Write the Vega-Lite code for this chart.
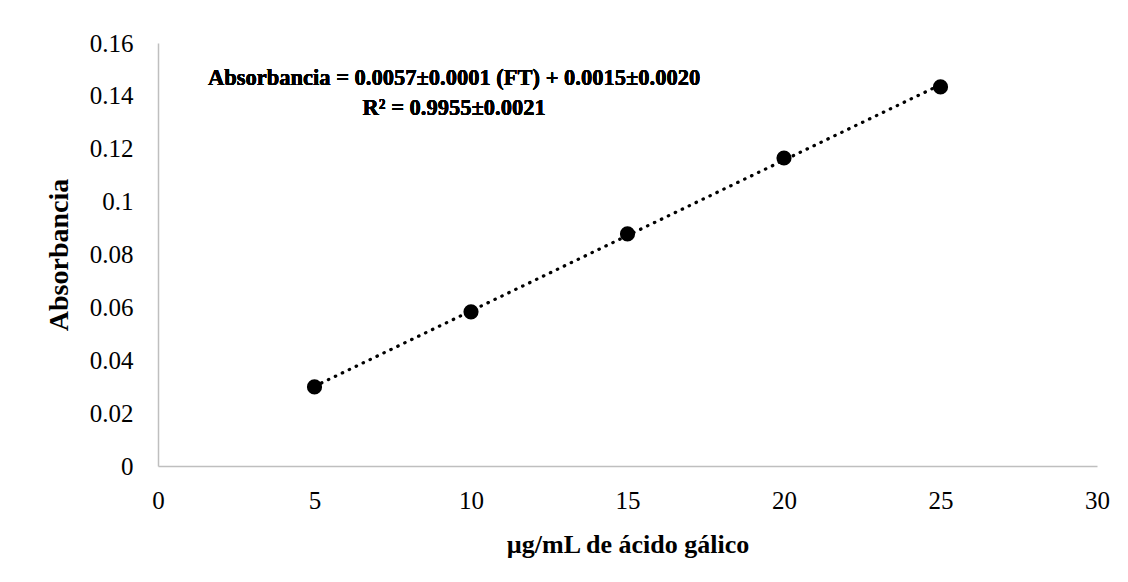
{
  "$schema": "https://vega.github.io/schema/vega-lite/v6.json",
  "autosize": "none",
  "width": 939,
  "height": 423,
  "padding": {"left": 158, "top": 43, "right": 31, "bottom": 116},
  "background": "white",
  "config": {
    "view": {"stroke": null},
    "axis": {
      "domainColor": "#bfbfbf",
      "domainWidth": 1.5,
      "ticks": false,
      "grid": false,
      "labelFlush": false,
      "labelOverlap": false,
      "labelFont": "Liberation Serif",
      "labelFontSize": 25,
      "labelColor": "#000000",
      "titleFont": "Liberation Serif",
      "titleFontWeight": "bold",
      "titleColor": "#000000"
    }
  },
  "data": {
    "values": [
      {"conc": 5, "abs": 0.0299},
      {"conc": 10, "abs": 0.0583},
      {"conc": 15, "abs": 0.0878},
      {"conc": 20, "abs": 0.1165},
      {"conc": 25, "abs": 0.1434}
    ]
  },
  "layer": [
    {
      "transform": [{"regression": "abs", "on": "conc"}],
      "mark": {"type": "line", "color": "#000000", "strokeWidth": 3.2, "strokeDash": [0.5, 7.2], "strokeCap": "round"},
      "encoding": {
        "x": {"field": "conc", "type": "quantitative"},
        "y": {"field": "abs", "type": "quantitative"}
      }
    },
    {
      "mark": {"type": "point", "shape": "circle", "filled": true, "color": "#000000", "opacity": 1, "size": 230},
      "encoding": {
        "x": {
          "field": "conc", "type": "quantitative",
          "scale": {"domain": [0, 30], "nice": false, "zero": true},
          "axis": {"values": [0, 5, 10, 15, 20, 25, 30], "format": "~g", "title": "µg/mL de ácido gálico", "titleFontSize": 26, "labelBaseline": "alphabetic", "labelPadding": 42, "titleBaseline": "alphabetic", "titleY": 86}
        },
        "y": {
          "field": "abs", "type": "quantitative",
          "scale": {"domain": [0, 0.16], "nice": false},
          "axis": {"values": [0, 0.02, 0.04, 0.06, 0.08, 0.1, 0.12, 0.14, 0.16], "format": "~g", "title": "Absorbancia", "titleFontSize": 28, "labelPadding": 25, "titleX": -99, "titleBaseline": "middle"}
        }
      }
    },
    {
      "mark": {"type": "text", "font": "Liberation Serif", "fontWeight": "bold", "fontSize": 22.5, "align": "center", "baseline": "alphabetic", "lineHeight": 30, "color": "#000000",
        "text": ["Absorbancia = 0.0057±0.0001 (FT) + 0.0015±0.0020", "R² = 0.9955±0.0021"]},
      "encoding": {
        "x": {"datum": 9.46},
        "y": {"datum": 0.1441}
      }
    }
  ]
}
